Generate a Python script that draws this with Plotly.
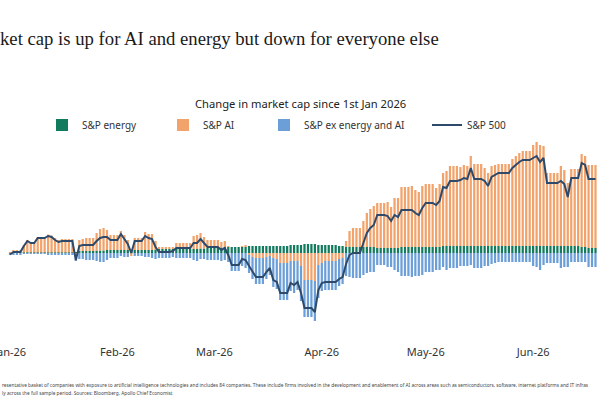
import plotly.graph_objects as go
import pandas as pd

# ---------------- data (daily, Jan 1 - Jun 19 2026, weekends/holidays carried forward) ----------------
start_date = "2026-01-01"

sp_energy = [
    0, 0.5, 0.5, 0.5,
    0.5, 0.5, 0.5, 0.5, 0.5, 0.5, 0.5,
    0.5, 0.5, 0.5, 0.5, 0.5, 0.5, 0.5,
    0.5, 1, 2, 2, 2, 2, 2,
    2.5, 2.5, 2.5, 3, 3, 3, 3,
    3, 3, 3, 3, 3, 3, 3,
    3, 3, 3, 3.5, 4, 4, 4,
    4, 4, 4, 4, 4, 4, 4,
    4, 4, 4.5, 4.5, 5, 5, 5,
    5, 5.5, 6, 6, 6, 6, 6,
    6, 6, 7, 7, 7, 7, 7,
    7, 7, 7, 7, 7, 7, 7,
    8, 8, 8, 8, 9, 9, 9,
    9, 8, 8, 8, 8, 8, 8,
    7, 7, 6, 6, 6, 6, 6,
    6, 6, 6, 6, 5, 5, 5,
    5, 5, 5, 5, 6, 6, 6,
    6, 6, 6, 6, 6, 6, 6,
    6, 6, 7, 7, 7, 7, 7,
    7, 7, 7, 7, 7, 7, 7,
    7, 7, 7, 7, 7, 7, 7,
    7, 7, 7, 7, 7, 7, 7,
    7, 7, 7, 7, 7, 7, 7,
    7, 7, 7, 7, 7, 7, 7,
    6, 6, 5, 5, 5,
]

sp_ai = [
    0.5, 2.5, 2.5, 2.5,
    7.5, 12.5, 10.5, 10.5, 15.5, 15.5, 15.5,
    18, 17, 14.5, 12.5, 13.5, 13.5, 13.5,
    13.5, -1, 11, 12, 13, 13, 13,
    17.5, 21.5, 22.5, 20, 15, 15, 15,
    19, 15, 10, -3, 12, 12, 12,
    18, 16, 16, 8.5, 2, 2, 2,
    2, 2, 6, 6, 6, 6, 6,
    13, 14, 15.5, 11.5, 8, 8, 8,
    8, 5.5, 6, 1, 0, 0, 0,
    1, 2, -2, -4, -5, -5, -5,
    -4, -3, -5, -6, -10, -10, -10,
    -8, -8, -8, -13, -27, -27, -27,
    -28, -12, -10, -8, -8, -8, -8,
    -6, -5, 6, 16, 19, 19, 19,
    26, 34, 38, 41, 45, 45, 45,
    46, 41, 50, 50, 60, 60, 60,
    61, 57, 55, 61, 63, 63, 63,
    59, 63, 73, 75, 80, 80, 80,
    79, 81, 80, 90, 82, 82, 82,
    78, 73, 80, 81, 82, 82, 82,
    82, 87, 90, 93, 95, 95, 95,
    101, 104, 101, 100, 73, 73, 73,
    73, 80, 76, 63, 77, 77, 77,
    93, 91, 83, 83, 83,
]

sp_ex = [
    -2, -2, -2, -2,
    -1, -1, -1, -1, -1, -1, -1,
    -1.5, -1.5, -2, -2, -2, -2, -2,
    -2, -7, -6, -6, -7, -7, -7,
    -8, -9, -9, -7, -5, -5, -5,
    -3, -4, -4, 0, -3, -3, -3,
    -4, -4, -5, -6, -5, -5, -5,
    -5, -4, -5, -5, -5, -5, -5,
    -7, -8, -6, -6, -7, -7, -7,
    -7, -8, -7, -9, -18, -18, -18,
    -13, -15, -18, -22, -26, -26, -26,
    -22, -19, -29, -30, -37, -37, -37,
    -30, -32, -29, -35, -37, -37, -37,
    -40, -33, -28, -29, -29, -29, -29,
    -27, -26, -23, -24, -25, -25, -25,
    -22, -20, -19, -19, -12, -12, -12,
    -14, -14, -17, -19, -23, -23, -23,
    -24, -23, -23, -22, -19, -19, -19,
    -17, -17, -14, -17, -15, -15, -15,
    -13, -13, -13, -12, -15, -15, -15,
    -13, -13, -11, -10, -9, -9, -9,
    -9, -9, -9, -9, -9, -9, -9,
    -13, -14, -17, -12, -10, -10, -10,
    -10, -15, -14, -14, -9, -9, -9,
    -9, -9, -14, -14, -14,
]

sp_500 = [
    -1.5, 1, 1, 1,
    7, 12, 10, 10, 15, 15, 15,
    17, 16, 13, 11, 12, 12, 12,
    12, -7, 7, 8, 8, 8, 8,
    12, 15, 16, 16, 13, 13, 13,
    19, 14, 9, 0, 12, 12, 12,
    17, 15, 14, 6, 1, 1, 1,
    1, 2, 5, 5, 5, 5, 5,
    10, 10, 14, 10, 6, 6, 6,
    6, 3, 5, -2, -12, -12, -12,
    -6, -7, -13, -19, -24, -24, -24,
    -19, -15, -27, -29, -40, -40, -40,
    -30, -32, -29, -40, -55, -55, -55,
    -59, -37, -30, -29, -29, -29, -29,
    -26, -24, -11, -2, 0, 0, 0,
    10, 20, 25, 28, 38, 38, 38,
    37, 32, 38, 36, 43, 43, 43,
    43, 40, 38, 45, 50, 50, 50,
    48, 52, 66, 65, 72, 72, 72,
    73, 75, 74, 85, 74, 74, 74,
    72, 67, 76, 78, 80, 80, 80,
    80, 85, 88, 91, 93, 93, 93,
    95, 97, 91, 95, 70, 70, 70,
    70, 72, 69, 56, 75, 75, 75,
    90, 88, 74, 74, 74,
]

month_ticks = ["2026-01-01", "2026-02-01", "2026-03-01", "2026-04-01", "2026-05-01", "2026-06-01"]
month_labels = ["Jan-26", "Feb-26", "Mar-26", "Apr-26", "May-26", "Jun-26"]

title_text = "ket cap is up for AI and energy but down for everyone else"
subtitle_text = "Change in market cap since 1st Jan 2026"
note_line1 = ("resentative basket of companies with exposure to artificial intelligence technologies and includes 84 companies. "
              "These include firms involved in the development and enablement of AI across areas such as semiconductors, "
              "software, internet platforms and IT infras")
note_line2 = "ly across the full sample period. Sources: Bloomberg, Apollo Chief Economist"

# ---------------- figure ----------------
dates = pd.date_range(start_date, periods=len(sp_500), freq="D")

C_ENERGY = "#127B5E"
C_AI = "#F2A36B"
C_EX = "#6C9FD8"
C_LINE = "#2E4A6B"

W, H = 600, 400
M_L, M_R, M_T, M_B = 0, 0, 130, 60
Y_RANGE = [-87, 123]
X_RANGE = ["2025-12-29 02:42", "2026-06-20 07:12"]

plot_h = H - M_T - M_B


def py(px):
    """pixel row -> paper y"""
    return (H - M_B - px) / plot_h


def pxx(px):
    return px / W


fig = go.Figure()
fig.add_bar(x=dates, y=sp_energy, name="S&P energy", marker=dict(color=C_ENERGY, line=dict(width=0)),
            legend="legend")
fig.add_bar(x=dates, y=sp_ai, name="S&P AI", marker=dict(color=C_AI, line=dict(width=0)),
            legend="legend2")
fig.add_bar(x=dates, y=sp_ex, name="S&P ex energy and AI", marker=dict(color=C_EX, line=dict(width=0)),
            legend="legend3")
fig.add_scatter(x=dates, y=sp_500, name="S&P 500", mode="lines",
                line=dict(color=C_LINE, width=2), legend="legend4")

sans = "Noto Sans, Open Sans, sans-serif"
leg_font = dict(family=sans, size=10, color="#333333")
leg_common = dict(orientation="h", yanchor="middle", xanchor="left", font=leg_font,
                  bgcolor="rgba(0,0,0,0)", borderwidth=0)

zero_pos = (0 - Y_RANGE[0]) / (Y_RANGE[1] - Y_RANGE[0])

fig.update_layout(
    width=W, height=H,
    margin=dict(l=M_L, r=M_R, t=M_T, b=M_B, autoexpand=False),
    paper_bgcolor="white", plot_bgcolor="white",
    barmode="relative", bargap=0.35,
    title=dict(text=title_text, x=0, xanchor="left", xref="paper", y=1 - 38 / H, yanchor="middle",
               font=dict(family="Liberation Serif, serif", size=18.7, color="#1a1a1a")),
    xaxis=dict(type="date", range=X_RANGE, tickvals=month_ticks, ticktext=month_labels,
               showgrid=False, showline=False, zeroline=False, ticks="", automargin=False,
               ticklabeloverflow="allow", ticklabelstandoff=4,
               tickfont=dict(family=sans, size=11, color="#333333")),
    xaxis2=dict(type="date", range=X_RANGE, overlaying="x", anchor="free", position=zero_pos,
                showline=True, linecolor="#333333", linewidth=1, ticks="outside", ticklen=3,
                tickcolor="#333333", tickvals=month_ticks, showticklabels=False, showgrid=False,
                zeroline=False, layer="above traces", automargin=False),
    yaxis=dict(range=Y_RANGE, visible=False, showgrid=False, zeroline=False, automargin=False),
    legend=dict(x=pxx(42), y=py(125), **leg_common),
    legend2=dict(x=pxx(163), y=py(125), **leg_common),
    legend3=dict(x=pxx(264), y=py(125), **leg_common),
    legend4=dict(x=pxx(427), y=py(125), **leg_common),
    showlegend=True,
    annotations=[
        dict(text=subtitle_text, x=0.5, xref="paper", y=py(103), yref="paper", showarrow=False,
             xanchor="center", yanchor="middle",
             font=dict(family=sans, size=11.2, color="#222222")),
        dict(text=note_line1, x=0, xref="paper", y=py(385), yref="paper", showarrow=False,
             xanchor="left", yanchor="middle",
             font=dict(family=sans, size=4.75, color="#444444")),
        dict(text=note_line2, x=0, xref="paper", y=py(393), yref="paper", showarrow=False,
             xanchor="left", yanchor="middle",
             font=dict(family=sans, size=4.75, color="#444444")),
    ],
)

fig.write_html("out.html")
